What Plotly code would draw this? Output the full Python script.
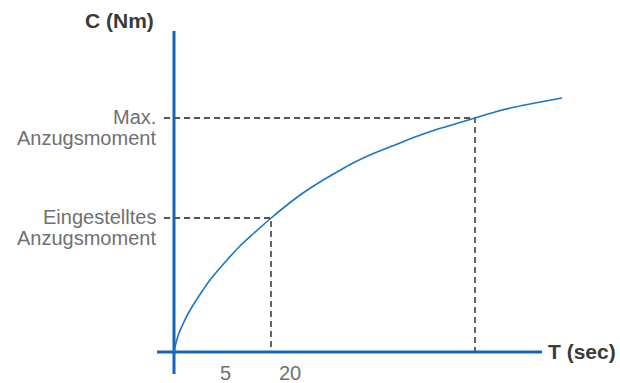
import plotly.graph_objects as go

# Data (units: offset from origin)
curve_t = [0, 2, 5, 9, 15, 23, 29, 36, 53, 66, 79, 96, 113, 129, 146, 163, 179, 196,
           221, 241, 261, 281, 301, 321, 341, 361, 388]
curve_c = [0, 9, 19, 28, 40, 53, 62, 72, 92, 106, 118, 133, 147, 159, 170, 180, 189, 197,
           207, 215, 222, 228, 234, 240, 245, 249, 254]

set_point_t, set_point_c = 97, 134      # Eingestelltes Anzugsmoment at T=20
max_point_t, max_point_c = 301, 234     # Max. Anzugsmoment
dash_start_t = -10

x_axis_span = [-17, 368]
y_axis_span = [-22, 321]

tick_pos = [51, 116]
tick_labels = ["5", "20"]

AXIS_BLUE = "#1565b8"
CURVE_BLUE = "#1b76c6"
DASH_GRAY = "#555555"
LABEL_GRAY = "#707070"
TITLE_GRAY = "#3a3a3a"
FONT = "Liberation Sans, Arial, sans-serif"

fig = go.Figure()

# axes
fig.add_trace(go.Scatter(x=x_axis_span, y=[0, 0], mode="lines",
                         line=dict(color=AXIS_BLUE, width=3), hoverinfo="skip"))
fig.add_trace(go.Scatter(x=[0, 0], y=y_axis_span, mode="lines",
                         line=dict(color=AXIS_BLUE, width=3), hoverinfo="skip"))

# dashed guides
dash = dict(color=DASH_GRAY, width=1.8, dash="6px,4px")
fig.add_trace(go.Scatter(x=[dash_start_t, set_point_t, set_point_t],
                         y=[set_point_c, set_point_c, 0], mode="lines", line=dash))
fig.add_trace(go.Scatter(x=[dash_start_t, max_point_t, max_point_t],
                         y=[max_point_c, max_point_c, 0], mode="lines", line=dash))

# curve
fig.add_trace(go.Scatter(x=curve_t, y=curve_c, mode="lines", line_shape="spline",
                         line=dict(color=CURVE_BLUE, width=1.6, smoothing=0.8)))

ann = []
def label(text, x, y, xanchor, size, color, bold=False):
    ann.append(dict(text=f"<b>{text}</b>" if bold else text, x=x, y=y,
                    xref="x", yref="y", xanchor=xanchor, yanchor="middle",
                    showarrow=False, font=dict(family=FONT, size=size, color=color)))

label("C (Nm)", -18, 332, "right", 21, TITLE_GRAY, True)
label("T (sec)", 372, 1, "left", 21, TITLE_GRAY, True)
label("Max.", -16, max_point_c + 1, "right", 20, LABEL_GRAY)
label("Anzugsmoment", -16, max_point_c - 20, "right", 20, LABEL_GRAY)
label("Eingestelltes", -16, set_point_c + 1, "right", 20, LABEL_GRAY)
label("Anzugsmoment", -16, set_point_c - 20, "right", 20, LABEL_GRAY)
for p, t in zip(tick_pos, tick_labels):
    label(t, p, -21, "center", 20, LABEL_GRAY)

fig.update_layout(
    width=620, height=383, autosize=False,
    margin=dict(l=0, r=0, t=0, b=0),
    paper_bgcolor="white", plot_bgcolor="white",
    showlegend=False,
    xaxis=dict(range=[-174, 446], visible=False, fixedrange=True),
    yaxis=dict(range=[-31, 352], visible=False, fixedrange=True),
    annotations=ann,
)

fig.write_html("out.html", config={"displayModeBar": False},
               post_script="document.body.style.margin='0px';")
